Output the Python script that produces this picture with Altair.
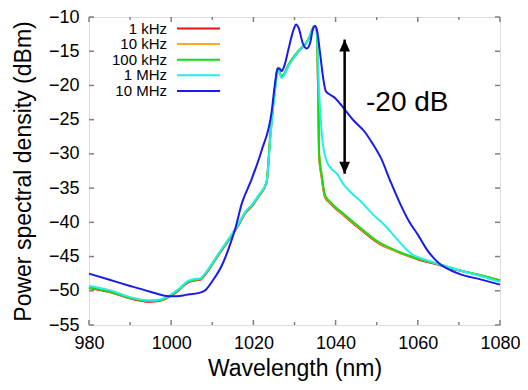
import altair as alt
import pandas as pd

FONT = "Liberation Sans"

# ---------------- data ----------------
series_names = ["1 kHz", "10 kHz", "100 kHz", "1 MHz", "10 MHz"]
series_colors = ["#ee1111", "#ffa820", "#11dd11", "#22eeee", "#1a1aee"]

wl_low = [980, 985, 989.9, 994.7, 997.1, 999.5, 1001.9, 1004.0, 1005.5, 1007.0,
          1008.2, 1009.5, 1011.6, 1014.0, 1016.4, 1018.1, 1019.7, 1021.3, 1023.2, 1024.1,
          1025.3, 1025.9, 1026.8, 1027.5, 1028.5, 1030.9, 1033.3, 1034.3, 1034.8, 1035.4,
          1035.8, 1036.0, 1036.6, 1037.4, 1039.0, 1042.2, 1046.0, 1050.3, 1055.0, 1060.0,
          1065.6, 1070.0, 1075.0, 1080.0]

psd_1khz = [-49.6, -50.2, -51.1, -51.6, -51.5, -50.9, -49.9, -48.8, -48.5, -48.4,
            -47.7, -46.6, -44.7, -42.6, -40.4, -38.6, -37.6, -36.2, -34.2, -27.5,
            -20.2, -17.5, -18.7, -18.4, -17.1, -15.1, -13.4, -12.0, -11.4, -12.1,
            -22.8, -30.5, -33.4, -36.3, -37.4, -39.1, -41.0, -43.0, -44.3, -45.4,
            -46.3, -47.0, -47.7, -48.5]

psd_10khz = [-49.5, -50.1, -51.0, -51.5, -51.4, -50.8, -49.8, -48.7, -48.4, -48.3,
             -47.6, -46.5, -44.6, -42.5, -40.3, -38.5, -37.5, -36.1, -34.1, -27.4,
             -20.1, -17.4, -18.6, -18.3, -17.0, -15.0, -13.3, -11.9, -11.3, -11.9,
             -22.6, -30.3, -33.2, -36.2, -37.3, -39.0, -40.9, -42.9, -44.3, -45.3,
             -46.2, -47.0, -47.7, -48.5]

psd_100khz = [-49.5, -50.1, -51.0, -51.5, -51.4, -50.8, -49.8, -48.7, -48.4, -48.3,
              -47.6, -46.5, -44.6, -42.5, -40.3, -38.5, -37.5, -36.1, -34.1, -27.3,
              -20.1, -17.4, -18.6, -18.3, -17.0, -15.0, -13.3, -11.9, -11.3, -11.9,
              -22.4, -30.1, -33.0, -36.0, -37.2, -38.9, -40.8, -42.8, -44.2, -45.3,
              -46.2, -47.0, -47.7, -48.5]

wl_1mhz = [980, 985, 989.9, 994.7, 997.1, 999.5, 1001.9, 1004.0, 1005.5, 1007.0,
           1008.2, 1009.5, 1011.6, 1014.0, 1016.4, 1018.1, 1019.7, 1021.3, 1023.2, 1024.1,
           1025.3, 1026.0, 1026.9, 1027.5, 1028.5, 1030.9, 1033.3, 1034.3, 1034.8, 1035.4,
           1036.0, 1036.8, 1037.6, 1039.0, 1040.6, 1041.4, 1043.5, 1046.2, 1049.0, 1051.9,
           1055.0, 1058.2, 1062.0, 1065.6, 1070.0, 1075.0, 1080.0]

psd_1mhz = [-49.3, -49.9, -50.9, -51.4, -51.3, -50.7, -49.7, -48.6, -48.3, -48.2,
            -47.5, -46.4, -44.5, -42.4, -40.2, -38.4, -37.4, -36.0, -34.2, -27.8,
            -20.6, -17.8, -18.9, -18.5, -17.2, -15.1, -13.4, -12.0, -11.4, -11.8,
            -21.0, -28.0, -30.7, -32.2, -33.1, -34.0, -35.5, -37.0, -38.8, -40.4,
            -42.5, -44.5, -45.5, -46.2, -47.0, -47.8, -48.7]

wl_10mhz = [980, 985, 990, 994.7, 999.5, 1001.5, 1003.6, 1006.8, 1008.5, 1010.0,
            1012.4, 1014.0, 1015.6, 1017.2, 1019.3, 1022.0, 1024.4, 1025.3, 1025.8, 1026.3,
            1026.9, 1027.6, 1028.5, 1029.8, 1030.4, 1031.0, 1032.0, 1033.0, 1033.8, 1034.5,
            1035.0, 1035.5, 1036.2, 1037.0, 1037.6, 1038.5, 1039.8, 1041.0, 1042.2, 1044.5,
            1047.1, 1049.0, 1051.1, 1053.4, 1055.5, 1058.0, 1060.0, 1062.0, 1064.0, 1065.6,
            1068.0, 1070.4, 1075.0, 1080.0]

psd_10mhz = [-47.5, -48.4, -49.3, -50.1, -50.8, -50.8, -50.6, -50.3, -49.8, -48.6,
             -46.2, -43.8, -40.9, -37.2, -34.1, -29.5, -24.0, -19.5, -17.7, -17.5,
             -17.9, -17.0, -14.8, -11.8, -11.1, -11.6, -13.8, -14.6, -13.8, -11.7,
             -11.3, -12.0, -15.2, -19.0, -20.8, -21.3, -21.8, -22.6, -23.5, -25.2,
             -26.8, -28.5, -30.7, -34.1, -37.0, -40.0, -41.8, -43.8, -45.3, -46.2,
             -47.0, -47.6, -48.3, -49.1]

series_wl = [wl_low, wl_low, wl_low, wl_1mhz, wl_10mhz]
series_psd = [psd_1khz, psd_10khz, psd_100khz, psd_1mhz, psd_10mhz]

x_major = [980, 1000, 1020, 1040, 1060, 1080]
x_minor = [990, 1010, 1030, 1050, 1070]
y_major = [-55, -50, -45, -40, -35, -30, -25, -20, -15, -10]

arrow_x = [1042.2]
arrow_top = [-13.3]
arrow_bottom = [-32.9]
annot_text = ["-20 dB"]
annot_x = [1047.4]
annot_y = [-22.6]

# ---------------- chart ----------------
W, H = 411, 308
FRAME = "#808080"

x_scale = alt.Scale(domain=[980, 1080], nice=False, zero=False)
y_scale = alt.Scale(domain=[-55, -10], nice=False, zero=False)

x_axis = alt.Axis(values=x_major, format="d", ticks=False, domain=False, grid=False,
                  labelFont=FONT, labelFontSize=18, labelColor="black",
                  labelPadding=9, labelFlush=False, labelOverlap=False,
                  title="Wavelength (nm)", titleFont=FONT, titleFontSize=23,
                  titleFontWeight="normal", titleColor="black", titlePadding=5)
y_axis = alt.Axis(values=y_major, format="d", ticks=False, domain=False, grid=False,
                  labelFont=FONT, labelFontSize=18, labelColor="black",
                  labelPadding=10, labelFlush=False, labelOverlap=False,
                  title="Power spectral density (dBm)", titleFont=FONT,
                  titleFontSize=23, titleFontWeight="normal",
                  titleColor="black", titlePadding=13)

X = lambda f="wl:Q": alt.X(f, scale=x_scale, axis=x_axis)
Y = lambda f="psd:Q": alt.Y(f, scale=y_scale, axis=y_axis)

layers = []
for name, color, wl, psd in zip(series_names, series_colors, series_wl, series_psd):
    df = pd.DataFrame({"wl": wl, "psd": psd})
    layers.append(
        alt.Chart(df).mark_line(color=color, strokeWidth=2, interpolate="monotone")
        .encode(x=X(), y=Y())
    )

# inward ticks
tx_major = pd.DataFrame({"wl": x_major})
tx_minor = pd.DataFrame({"wl": x_minor})
ty_major = pd.DataFrame({"psd": y_major})
tick_style = dict(color=FRAME, strokeWidth=1.5)
layers += [
    alt.Chart(tx_major).mark_rule(**tick_style).encode(x=X(), y=alt.value(H), y2=alt.value(H - 5)),
    alt.Chart(tx_minor).mark_rule(**tick_style).encode(x=X(), y=alt.value(H), y2=alt.value(H - 3)),
    alt.Chart(tx_major).mark_rule(**tick_style).encode(x=X(), y=alt.value(0), y2=alt.value(5)),
    alt.Chart(tx_minor).mark_rule(**tick_style).encode(x=X(), y=alt.value(0), y2=alt.value(3)),
    alt.Chart(ty_major).mark_rule(**tick_style).encode(y=Y(), x=alt.value(0), x2=alt.value(5)),
    alt.Chart(ty_major).mark_rule(**tick_style).encode(y=Y(), x=alt.value(W), x2=alt.value(W - 5)),
]

# arrow and annotation
arr = pd.DataFrame({"wl": arrow_x, "psd": arrow_top, "psd2": arrow_bottom})
layers.append(alt.Chart(arr).mark_rule(color="black", strokeWidth=2.5)
              .encode(x=X(), y=Y(), y2="psd2:Q"))
layers.append(alt.Chart(pd.DataFrame({"wl": arrow_x, "psd": arrow_top}))
              .mark_point(shape="M0,0L-0.9,2L0.9,2Z", filled=True, color="black", opacity=1, size=144)
              .encode(x=X(), y=Y()))
layers.append(alt.Chart(pd.DataFrame({"wl": arrow_x, "psd": arrow_bottom}))
              .mark_point(shape="M0,0L-0.9,-2L0.9,-2Z", filled=True, color="black", opacity=1, size=144)
              .encode(x=X(), y=Y()))
layers.append(alt.Chart(pd.DataFrame({"wl": annot_x, "psd": annot_y, "t": annot_text}))
              .mark_text(font=FONT, fontSize=28, align="left", baseline="middle", color="black")
              .encode(x=X(), y=Y(), text="t:N"))

# legend (labels left of sample lines)
for i, (name, color) in enumerate(zip(series_names, series_colors)):
    ly = 11.5 + 15.6 * i
    ldf = pd.DataFrame({"label": [name]})
    layers.append(alt.Chart(ldf).mark_text(font=FONT, fontSize=15, align="right",
                                           baseline="middle", color="black")
                  .encode(x=alt.value(78), y=alt.value(ly), text="label:N"))
    layers.append(alt.Chart(ldf).mark_rule(color=color, strokeWidth=2)
                  .encode(x=alt.value(88), x2=alt.value(131), y=alt.value(ly)))

chart = alt.layer(*layers).properties(
    width=W, height=H,
    autosize=alt.AutoSizeParams(type="none"),
    padding={"left": 81, "top": 9, "right": 20, "bottom": 57},
).configure_view(stroke=FRAME, strokeWidth=1.5).configure(background="white")

chart.save("out.html", embed_options={"renderer": "svg", "actions": False})
